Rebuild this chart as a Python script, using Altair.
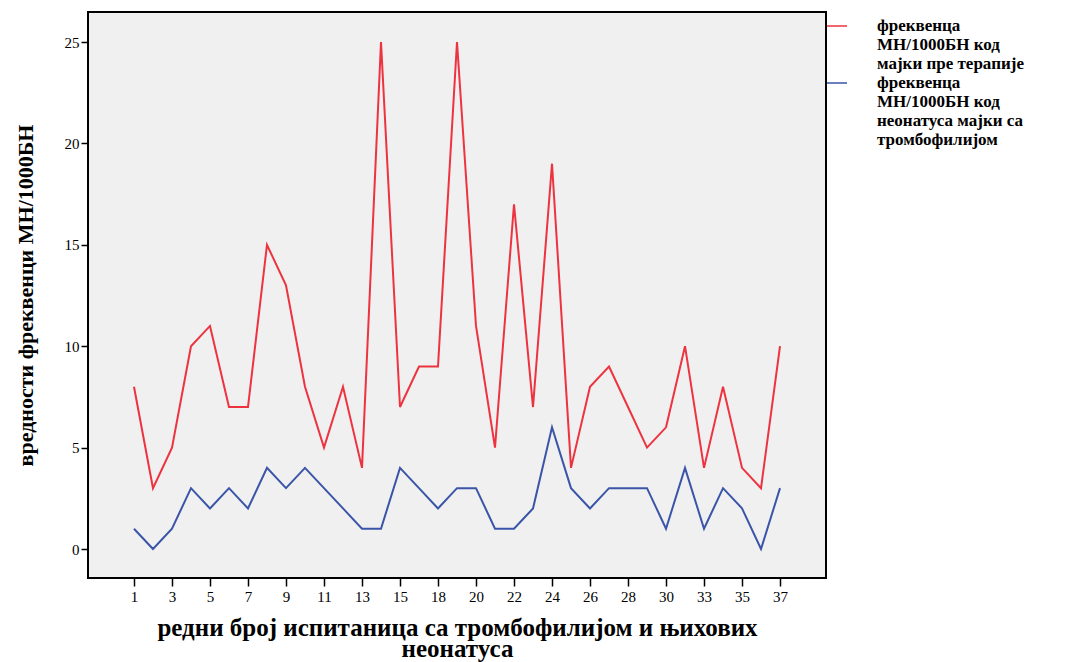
import altair as alt
import pandas as pd
import json

cases = ["1","2","3","4","5","6","7","8","9","10","11","12","13","14","15","16",
         "18","19","20","21","22","23","24","25","26","27","28","29","30","31",
         "33","34","35","36","37"]
tick_labels = ["1","3","5","7","9","11","13","15","18","20","22","24","26","28","30","33","35","37"]

before_therapy = [8,3,5,10,11,7,7,15,13,8,5,8,4,25,7,9,9,25,11,5,17,7,19,4,8,9,7,5,6,10,4,8,4,3,10]
neonates = [1,0,1,3,2,3,2,4,3,4,3,2,1,1,4,3,2,3,3,1,1,2,6,3,2,3,3,3,1,4,1,3,2,0,3]

s1 = "фреквенца|МН/1000БН код|мајки пре терапије"
s2 = "фреквенца|МН/1000БН код|неонатуса мајки са|тромбофилијом"

rows = []
for i, (c, v) in enumerate(zip(cases, before_therapy)):
    rows.append({"idx": i, "case": c, "series": s1, "value": v})
for i, (c, v) in enumerate(zip(cases, neonates)):
    rows.append({"idx": i, "case": c, "series": s2, "value": v})
df = pd.DataFrame(rows)

tick_idx = [cases.index(t) for t in tick_labels]
label_expr = json.dumps(cases) + "[datum.value]"

serif = "Liberation Serif"
n = len(cases)

chart = alt.Chart(df).mark_line(strokeWidth=2).encode(
    x=alt.X("idx:Q",
            scale=alt.Scale(domain=[-2.42, n - 1 + 2.42], nice=False, zero=False),
            axis=alt.Axis(values=tick_idx, labelExpr=label_expr, labelAngle=0,
                          labelFont=serif, labelFontSize=15, labelColor="#000",
                          tickColor="#000", tickSize=8, tickWidth=1.5, domain=False,
                          grid=False, labelPadding=3, labelFlush=False, labelOverlap=False,
                          title=["редни број испитаница са тромбофилијом и њихових", "неонатуса"],
                          titleFont=serif, titleFontSize=25, titleFontWeight="bold",
                          titleColor="#000", titlePadding=11, titleLineHeight=21)),
    y=alt.Y("value:Q",
            scale=alt.Scale(domain=[-1.43, 26.48], nice=False, zero=False),
            axis=alt.Axis(values=[0,5,10,15,20,25], labelFont=serif, labelFontSize=15,
                          labelColor="#000", tickColor="#000", tickSize=7, tickWidth=1.5,
                          domain=False, grid=False, labelPadding=2,
                          title="вредности фреквенци МН/1000БН", titleFont=serif,
                          titleFontSize=22, titleFontWeight="bold", titleColor="#000",
                          titleAngle=270, titleX=-63, titleY=283, titleAlign="center",
                          titleBaseline="middle")),
    color=alt.Color("series:N", sort=[s1, s2],
                    scale=alt.Scale(domain=[s1, s2], range=["#EE3340", "#3A55A8"]),
                    legend=alt.Legend(title=None, orient="none", legendX=738, legendY=3,
                                      symbolType="stroke", symbolSize=400,
                                      symbolStrokeWidth=1.5, labelOffset=29,
                                      labelExpr="split(datum.label, '|')",
                                      labelFont=serif, labelFontSize=17,
                                      labelFontWeight="bold", labelColor="#000",
                                      labelLimit=300, rowPadding=0, padding=0))
).properties(
    width=738, height=566,
    autosize=alt.AutoSizeParams(type="none"),
    padding={"left": 88, "top": 12, "right": 244, "bottom": 84},
    background="#ffffff"
).configure_view(
    fill="#F0F0F0", stroke="#000", strokeWidth=2
)

chart.save("out.html", embed_options={"renderer": "svg", "actions": False})
